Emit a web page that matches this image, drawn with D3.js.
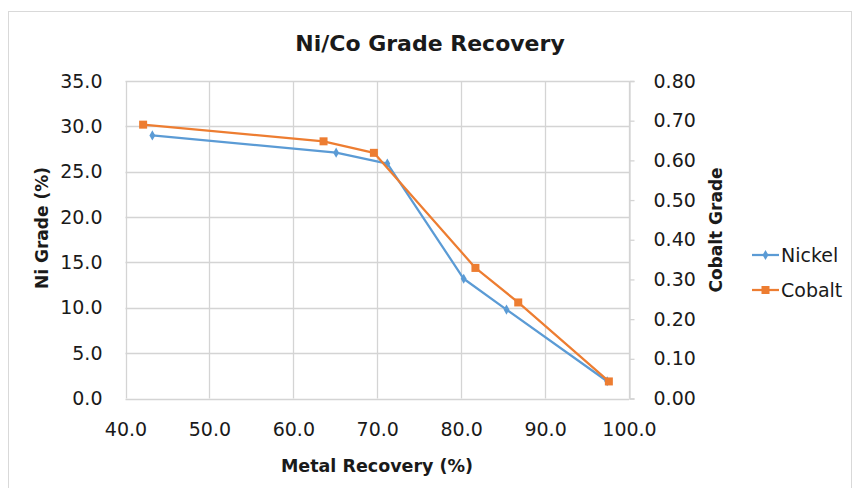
<!DOCTYPE html>
<html>
<head>
<meta charset="utf-8">
<script src="https://cdn.jsdelivr.net/npm/d3@7"></script>
<style>
  body { margin: 0; background: #fff; }
  text { font-family: "DejaVu Sans", sans-serif; fill: #1a1a1a; }
</style>
</head>
<body>
<div id="chart"></div>
<script>
// data
var nickelRecovery = [43.2, 65.1, 71.2, 80.3, 85.4, 97.4]
var nickelGrade = [29.0, 27.1, 25.9, 13.2, 9.8, 1.9]
var cobaltRecovery = [42.1, 63.6, 69.6, 81.7, 86.8, 97.6]
var cobaltGrade = [0.69, 0.648, 0.619, 0.329, 0.242, 0.043]
var xTicks = [40, 50, 60, 70, 80, 90, 100]
var niTicks = [0, 5, 10, 15, 20, 25, 30, 35]
var coTicks = [0, 0.1, 0.2, 0.3, 0.4, 0.5, 0.6, 0.7, 0.8]

var blue = "#5b9bd5", orange = "#ed7d31", grid = "#d4d4d4"

const W = 858, H = 488
const plot = {left: 125.5, right: 629, top: 81, bottom: 398.5}

var svg = d3.select("#chart").append("svg")
  .attr("width", W).attr("height", H)

// chart border
svg.append("rect")
  .attr("x", 8.5).attr("y", 11.5)
  .attr("width", 843).attr("height", 490)
  .attr("fill", "none").attr("stroke", "#d9d9d9")

var x = d3.scaleLinear().domain([40, 100]).range([plot.left, plot.right])
var yNi = d3.scaleLinear().domain([0, 35]).range([plot.bottom, plot.top])
var yCo = d3.scaleLinear().domain([0, 0.8]).range([plot.bottom, plot.top])

// gridlines
svg.append("g").selectAll("line").data(niTicks).enter().append("line")
  .attr("x1", plot.left).attr("x2", plot.right)
  .attr("y1", d => Math.round(yNi(d)) + 0.5).attr("y2", d => Math.round(yNi(d)) + 0.5)
  .attr("stroke", grid).attr("stroke-width", 1.3)
svg.append("g").selectAll("line").data(xTicks).enter().append("line")
  .attr("x1", d => Math.round(x(d)) + 0.5).attr("x2", d => Math.round(x(d)) + 0.5)
  .attr("y1", plot.top).attr("y2", plot.bottom)
  .attr("stroke", grid).attr("stroke-width", 1.3)

// bottom axis
var xAxis = svg.append("g")
  .attr("transform", "translate(0," + plot.bottom + ")")
  .call(d3.axisBottom(x).tickValues(xTicks).tickFormat(d3.format(".1f")).tickSize(0).tickPadding(24))
xAxis.select(".domain").remove()
xAxis.selectAll("text").style("font-size", "19px").attr("fill", "#1a1a1a")

// left axis
var leftAxis = svg.append("g")
  .attr("transform", "translate(" + plot.left + ",0)")
  .call(d3.axisLeft(yNi).tickValues(niTicks).tickFormat(d3.format(".1f")).tickSize(0).tickPadding(23))
leftAxis.select(".domain").remove()
leftAxis.selectAll("text").style("font-size", "19px").attr("fill", "#1a1a1a")

// right axis
var rightAxis = svg.append("g")
  .attr("transform", "translate(" + (Math.round(plot.right) + 0.5) + ",0)")
  .call(d3.axisRight(yCo).tickValues(coTicks).tickFormat(d3.format(".2f")).tickSize(5).tickPadding(19))
rightAxis.select(".domain").attr("stroke", grid).attr("stroke-width", 1.3)
rightAxis.selectAll(".tick line").attr("stroke", grid).attr("stroke-width", 1.3)
rightAxis.selectAll("text").style("font-size", "19px").attr("fill", "#1a1a1a")

// titles
svg.append("text")
  .attr("x", 430).attr("y", 51)
  .attr("text-anchor", "middle")
  .style("font-size", "22px").style("font-weight", "bold")
  .text("Ni/Co Grade Recovery")

svg.append("text")
  .attr("x", 377).attr("y", 472)
  .attr("text-anchor", "middle")
  .style("font-size", "17.5px").style("font-weight", "bold")
  .text("Metal Recovery (%)")

svg.append("text")
  .attr("transform", "translate(48,228) rotate(-90)")
  .attr("text-anchor", "middle")
  .style("font-size", "17px").style("font-weight", "bold")
  .text("Ni Grade (%)")

svg.append("text")
  .attr("transform", "translate(722,230) rotate(-90)")
  .attr("text-anchor", "middle")
  .style("font-size", "17px").style("font-weight", "bold")
  .text("Cobalt Grade")

// series
var nickel = nickelRecovery.map((r, i) => ({r: r, v: nickelGrade[i]}))
var cobalt = cobaltRecovery.map((r, i) => ({r: r, v: cobaltGrade[i]}))

svg.append("path")
  .datum(nickel)
  .attr("fill", "none").attr("stroke", blue).attr("stroke-width", 2.25)
  .attr("stroke-linejoin", "round")
  .attr("d", d3.line().x(d => x(d.r)).y(d => yNi(d.v)))

svg.append("g").selectAll("path").data(nickel).enter().append("path")
  .attr("d", d3.symbol().type(d3.symbolDiamond).size(30))
  .attr("transform", d => "translate(" + x(d.r) + "," + yNi(d.v) + ")")
  .attr("fill", blue)

svg.append("path")
  .datum(cobalt)
  .attr("fill", "none").attr("stroke", orange).attr("stroke-width", 2.25)
  .attr("stroke-linejoin", "round")
  .attr("d", d3.line().x(d => x(d.r)).y(d => yCo(d.v)))

svg.append("g").selectAll("rect").data(cobalt).enter().append("rect")
  .attr("x", d => x(d.r) - 4).attr("y", d => yCo(d.v) - 4)
  .attr("width", 8).attr("height", 8)
  .attr("fill", orange)

// legend
var legend = svg.append("g")
var items = [{name: "Nickel", color: blue, y: 255}, {name: "Cobalt", color: orange, y: 290}]
items.forEach(function(it) {
  legend.append("line")
    .attr("x1", 752).attr("x2", 779).attr("y1", it.y).attr("y2", it.y)
    .attr("stroke", it.color).attr("stroke-width", 2.25)
  if (it.name == "Nickel") {
    legend.append("path")
      .attr("d", d3.symbol().type(d3.symbolDiamond).size(30))
      .attr("transform", "translate(765.5," + it.y + ")")
      .attr("fill", it.color)
  } else {
    legend.append("rect")
      .attr("x", 761.5).attr("y", it.y - 4).attr("width", 8).attr("height", 8)
      .attr("fill", it.color)
  }
  legend.append("text")
    .attr("x", 781).attr("y", it.y + 7)
    .style("font-size", "19px")
    .text(it.name)
})
</script>
</body>
</html>
